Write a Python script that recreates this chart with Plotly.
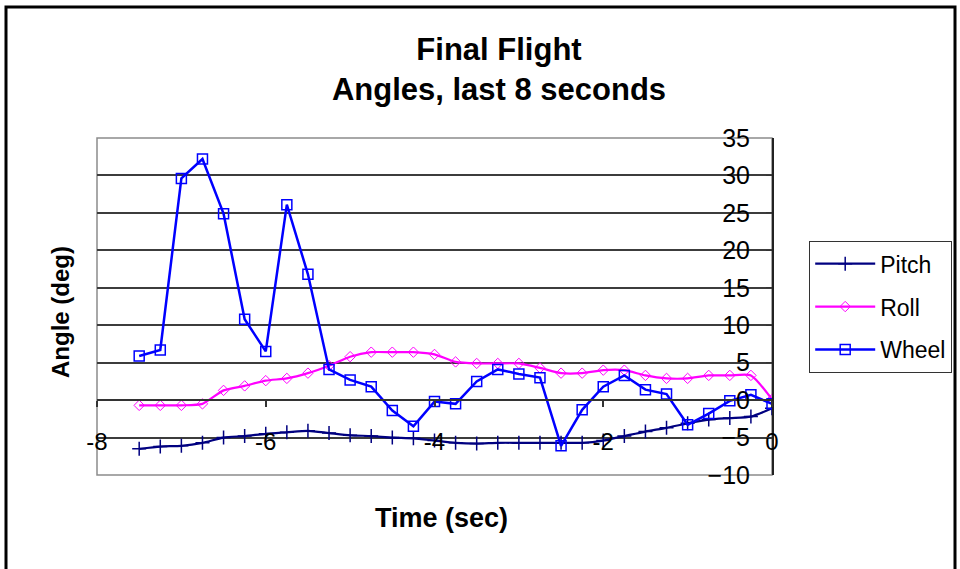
import plotly.graph_objects as go

# Time before touchdown (s), sampled every 0.25 s
time_s = [-7.5, -7.25, -7.0, -6.75, -6.5, -6.25, -6.0, -5.75, -5.5, -5.25,
          -5.0, -4.75, -4.5, -4.25, -4.0, -3.75, -3.5, -3.25, -3.0, -2.75,
          -2.5, -2.25, -2.0, -1.75, -1.5, -1.25, -1.0, -0.75, -0.5, -0.25, 0.0]

pitch = [-6.5, -6.2, -6.1, -5.7, -5.0, -4.8, -4.5, -4.3, -4.1, -4.4,
         -4.7, -4.8, -5.0, -5.1, -5.4, -5.7, -5.8, -5.7, -5.7, -5.7,
         -5.7, -5.7, -5.4, -4.8, -4.2, -3.7, -3.1, -2.6, -2.4, -2.2, -1.1]

roll = [-0.7, -0.7, -0.7, -0.5, 1.3, 1.9, 2.6, 2.9, 3.6, 4.6,
        5.8, 6.4, 6.4, 6.4, 6.1, 5.1, 4.9, 4.9, 4.9, 4.3,
        3.6, 3.6, 4.0, 4.0, 3.3, 2.9, 2.9, 3.3, 3.3, 3.3, 0.1]

wheel = [5.9, 6.7, 29.6, 32.2, 24.9, 10.8, 6.5, 26.1, 16.8, 4.1,
         2.7, 1.8, -1.4, -3.5, -0.2, -0.5, 2.5, 4.1, 3.5, 3.0,
         -6.1, -1.3, 1.8, 3.3, 1.4, 0.8, -3.3, -1.8, -0.1, 0.7, -0.5]

x_ticks = [-8, -6, -4, -2, 0]
y_ticks = [-10, -5, 0, 5, 10, 15, 20, 25, 30, 35]

FONT = "Liberation Sans, Arial, sans-serif"

fig = go.Figure()

fig.add_trace(go.Scatter(
    x=time_s, y=pitch, name="Pitch", mode="lines+markers",
    line=dict(color="#000080", width=2.2, shape="spline", smoothing=0.6),
    marker=dict(symbol="cross-thin", size=10, line=dict(color="#000080", width=1.5)),
    legendgroup="a",
))
fig.add_trace(go.Scatter(
    x=time_s, y=roll, name="Roll", mode="lines+markers",
    line=dict(color="#FF00FF", width=2.2, shape="spline", smoothing=0.6),
    marker=dict(symbol="diamond-open", size=8, color="#FF00FF", line=dict(width=1)),
    legendgroup="b",
))
fig.add_trace(go.Scatter(
    x=time_s, y=wheel, name="Wheel", mode="lines+markers",
    line=dict(color="#0000FF", width=2.5),
    marker=dict(symbol="square-open", size=10, color="#0000FF", line=dict(width=1.5)),
    legendgroup="c",
))
# invisible anchor so the overlaid label axis gets drawn
fig.add_trace(go.Scatter(
    x=[time_s[0]], y=[wheel[0]], yaxis="y2", mode="markers",
    marker=dict(opacity=0), showlegend=False, hoverinfo="skip",
))

# plot area in pixels: left 97, right 772, top 138, bottom 475
L, R, T, B = 97, 772, 138, 475
W, H = 960, 569
pw, ph = R - L, B - T


def px_x(p):
    return (p - L) / pw


def px_y(p):
    return (B - p) / ph


fig.update_layout(
    width=W, height=H,
    margin=dict(l=L, r=W - R, t=T, b=H - B, autoexpand=False),
    paper_bgcolor="white",
    plot_bgcolor="white",
    font=dict(family=FONT, color="black"),
    title=dict(
        text="Final Flight<br>Angles, last 8 seconds",
        x=499 / W, xref="container", xanchor="center",
        y=1 - 60 / H, yref="container", yanchor="middle",
        font=dict(family=FONT, size=31, color="black", weight="bold"),
    ),
    showlegend=True,
    legend=dict(
        x=px_x(809), y=px_y(241), xanchor="left", yanchor="top",
        bordercolor="#333333", borderwidth=1.2, bgcolor="white",
        font=dict(family=FONT, size=23, color="black"),
        tracegroupgap=10,
        itemwidth=60,
    ),
    xaxis=dict(
        range=[-8, 0],
        tickvals=x_ticks,
        ticktext=[str(v) for v in x_ticks],
        anchor="free",
        position=10 / 45,
        showline=True, linecolor="#333333", linewidth=1.5,
        ticks="outside", ticklen=6, tickcolor="#333333", tickwidth=1.5,
        ticklabelstandoff=14,
        showgrid=False, zeroline=False,
        tickfont=dict(family=FONT, size=24, color="black"),
    ),
    yaxis=dict(
        range=[-10, 35],
        tickvals=y_ticks,
        side="right",
        anchor="x",
        showticklabels=False,
        ticks="inside", ticklen=6, tickcolor="#333333",
        showline=True, linecolor="#222222", linewidth=1.5,
        showgrid=True, gridcolor="#3c3c3c", gridwidth=1.5,
        zeroline=False,
    ),
    # value labels sit just left of the right-hand axis line
    yaxis2=dict(
        range=[-10, 35],
        tickvals=y_ticks,
        overlaying="y",
        side="left",
        anchor="free",
        position=1.0,
        showline=False, showgrid=False, zeroline=False,
        ticks="",
        ticklabelstandoff=22,
        tickfont=dict(family=FONT, size=25, color="black"),
    ),
    annotations=[
        dict(text="<b>Time (sec)</b>", x=px_x(441), y=px_y(518),
             xref="paper", yref="paper", showarrow=False,
             xanchor="center", yanchor="middle",
             font=dict(family=FONT, size=27, color="black")),
        dict(text="<b>Angle (deg)</b>", x=px_x(60), y=px_y(312),
             xref="paper", yref="paper", showarrow=False, textangle=-90,
             xanchor="center", yanchor="middle",
             font=dict(family=FONT, size=24, color="black")),
    ],
    shapes=[
        # plot area frame
        dict(type="rect", xref="paper", yref="paper", x0=0, x1=1, y0=0, y1=1,
             line=dict(color="#8c8c8c", width=1.5), layer="between"),
        # outer chart border
        dict(type="rect", xref="paper", yref="paper",
             x0=px_x(6), x1=px_x(955), y0=px_y(620), y1=px_y(7),
             line=dict(color="black", width=3)),
    ],
)

fig.write_html("out.html")
